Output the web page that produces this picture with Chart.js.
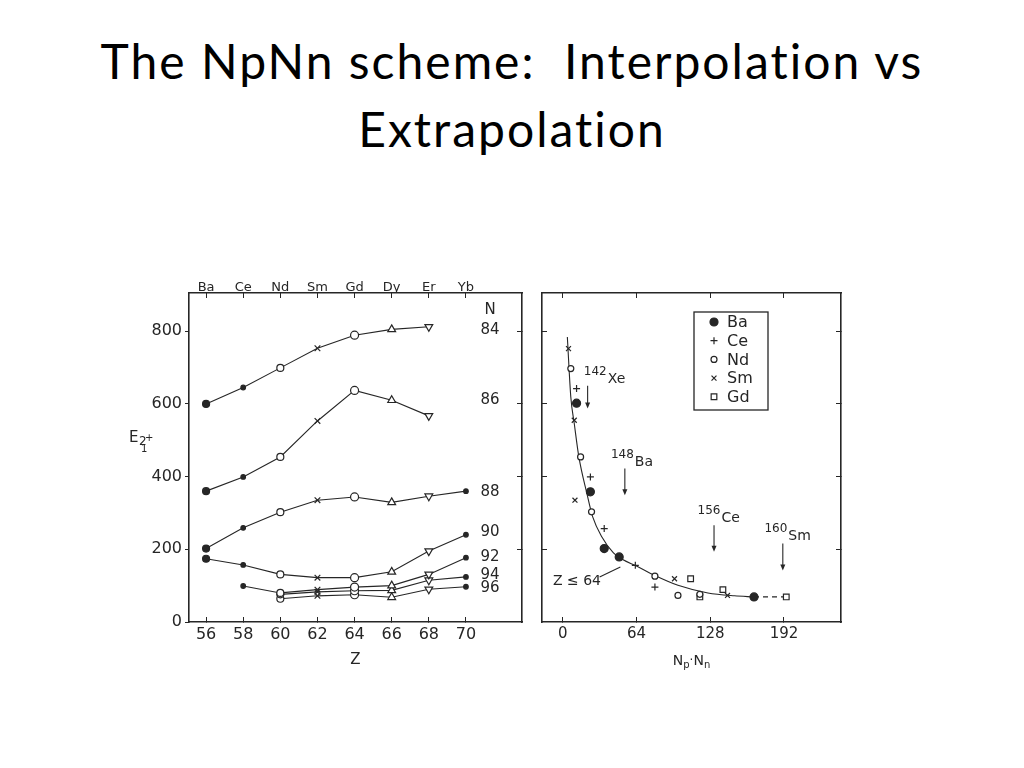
<!DOCTYPE html>
<html>
<head>
<meta charset="utf-8">
<script src="https://cdn.jsdelivr.net/npm/chart.js@4.4.1/dist/chart.umd.min.js"></script>
<style>
  html, body { margin: 0; padding: 0; background: #fff; }
  body { width: 1024px; height: 768px; position: relative; overflow: hidden; }
  .title { position: absolute; left: 0; top: 27px; width: 1024px; text-align: center;
           font-family: Lato, "Open Sans", sans-serif; font-size: 48px; line-height: 68px; color: #000;
           letter-spacing: 2px; font-variant-ligatures: none; }
  .panel { position: absolute; }
  #leftPanel { left: 120px; top: 262px; }
  #rightPanel { left: 530px; top: 262px; }
</style>
</head>
<body>
<div class="title">The NpNn scheme:&nbsp; Interpolation vs<br>Extrapolation</div>
<div class="panel" id="leftPanel"><canvas id="leftChart" width="420" height="420"></canvas></div>
<div class="panel" id="rightPanel"><canvas id="rightChart" width="330" height="420"></canvas></div>
<script>
// ---- left panel: E(2+) against Z, one line per neutron number N
var zValues = [56, 58, 60, 62, 64, 66, 68, 70];
var elements = ['Ba', 'Ce', 'Nd', 'Sm', 'Gd', 'Dy', 'Er', 'Yb'];
var nNumbers = ['84', '86', '88', '90', '92', '94', '96'];
var e84 = [600, 645, 699, 753, 789, 805, 812, null];
var e86 = [360, 399, 454, 553, 637, 610, 567, null];
var e88 = [202, 259, 302, 335, 344, 329, 346, 360];
var e90 = [174, 157, 131, 122, 122, 138, 195, 240];
var e92 = [null, 99, 80, 89, 96, 100, 131, 177];
var e94 = [null, null, 76, 83, 86, 87, 115, 124];
var e96 = [null, null, 64, 72, 75, 68, 90, 97];
var energyTicks = [0, 200, 400, 600, 800];

// ---- right panel: E(2+) against Np*Nn
var rightElements = ['Ba', 'Ce', 'Nd', 'Sm', 'Gd'];
var baX = [12, 24, 36, 49, 166];
var baY = [602, 358, 202, 179, 69];
var ceX = [12, 24, 36, 63, 80];
var ceY = [642, 399, 257, 156, 96];
var ndX = [7, 15.5, 25, 80, 100, 119];
var ndY = [697, 454, 303, 126, 73, 76];
var smX = [5, 10, 10.6, 97, 143];
var smY = [752, 555, 335, 119, 73];
var gdX = [111, 119, 139, 194];
var gdY = [119, 69, 89, 69];
var fitX = [4, 7, 10, 14, 21, 26, 34, 44, 52, 64, 80, 100, 126, 149, 166];
var fitY = [784, 619, 546, 454, 353, 289, 234, 190, 172, 154, 128, 101, 80, 72, 69];
var tailX = [166, 194];
var tailY = [69, 69];
var productTicks = [0, 64, 128, 192];

var ink = '#262626';
var num = { family: 'DejaVu Sans', size: 16 };

function pts(xs, ys) {
    return xs.map(function (x, i) { return { x: x, y: ys[i] }; });
}
function series(vals) {
    return zValues.map(function (z, i) { return vals[i] == null ? null : { x: z, y: vals[i] }; })
                  .filter(function (p) { return p; });
}
function fixTicks(list) {
    return function (s) { s.ticks = list.map(function (v) { return { value: v }; }); };
}

//marker look per element column in the left panel
var zLook = {
    56: { style: 'circle', r: 3.5, fill: true },
    58: { style: 'circle', r: 2.3, fill: true },
    60: { style: 'circle', r: 3.5, fill: false },
    62: { style: 'crossRot', r: 4, fill: false },
    64: { style: 'circle', r: 4, fill: false },
    66: { style: 'triangle', r: 4.5, fill: false },
    68: { style: 'triangle', r: 4.5, fill: false, rot: 180 },
    70: { style: 'circle', r: 2.3, fill: true }
};
function look(c) { return (c.raw && zLook[c.raw.x]) || zLook[56]; }

var leftSets = [e84, e86, e88, e90, e92, e94, e96].map(function (vals, i) {
    return {
        label: 'N = ' + nNumbers[i],
        data: series(vals),
        showLine: true,
        borderColor: ink,
        borderWidth: 1.1,
        pointStyle: function (c) { return look(c).style; },
        pointRadius: function (c) { return look(c).r; },
        pointRotation: function (c) { return look(c).rot || 0; },
        pointBackgroundColor: function (c) { return look(c).fill ? ink : '#fff'; },
        pointBorderColor: ink,
        pointBorderWidth: 1.2
    };
});

// N labels sit at the right end of each line
var nLabelAt = [802, 610, 358, 248, 179, 128, 92];

var leftExtras = {
    id: 'leftExtras',
    afterDraw: function (chart) {
        var ctx = chart.ctx, xs = chart.scales.x, ys = chart.scales.y;
        ctx.save();
        ctx.fillStyle = ink;
        ctx.font = '15px "DejaVu Sans"';
        ctx.textAlign = 'center';
        ctx.textBaseline = 'middle';
        var lx = xs.getPixelForValue(71.3);
        ctx.fillText('N', lx, ys.getPixelForValue(857));
        nNumbers.forEach(function (n, i) { ctx.fillText(n, lx, ys.getPixelForValue(nLabelAt[i])); });
        // E with 2_1^+ tag
        ctx.textAlign = 'left';
        ctx.textBaseline = 'alphabetic';
        ctx.font = '15px "DejaVu Sans"';
        ctx.fillText('E', 9, 180);
        ctx.font = '12px "DejaVu Sans"';
        ctx.fillText('2', 19, 183);
        ctx.font = '10px "DejaVu Sans"';
        ctx.fillText('+', 25, 179);
        ctx.fillText('1', 21, 190);
        ctx.restore();
    }
};

new Chart(document.getElementById('leftChart'), {
    type: 'scatter',
    data: { datasets: leftSets },
    options: {
        responsive: false,
        animation: false,
        events: [],
        layout: { padding: 0 },
        plugins: { legend: { display: false }, tooltip: { enabled: false } },
        scales: {
            x: {
                type: 'linear', position: 'bottom', min: 55.08, max: 73.02,
                afterBuildTicks: fixTicks(zValues),
                afterFit: function (s) { s.height = 60; },
                grid: { drawOnChartArea: false, tickLength: -5, color: ink },
                border: { display: true, color: ink, width: 1.6 },
                ticks: { padding: 8, font: num, color: ink, maxRotation: 0, autoSkip: false },
                title: { display: true, text: 'Z', font: { family: 'DejaVu Sans', size: 15 }, color: ink,
                         padding: { top: 0, bottom: 13 } }
            },
            xTop: {
                type: 'linear', position: 'top', min: 55.08, max: 73.02,
                afterBuildTicks: fixTicks(zValues),
                afterFit: function (s) { s.height = 31; },
                grid: { drawOnChartArea: false, tickLength: -5, color: ink },
                border: { display: true, color: ink, width: 1.6 },
                ticks: { padding: 3, font: { family: 'DejaVu Sans', size: 13 }, color: ink,
                         maxRotation: 0, autoSkip: false,
                         callback: function (v) { return elements[zValues.indexOf(v)]; } }
            },
            y: {
                type: 'linear', position: 'left', min: 0, max: 905,
                afterBuildTicks: fixTicks(energyTicks),
                afterFit: function (s) { s.width = 69; },
                grid: { drawOnChartArea: false, tickLength: 4, color: ink },
                border: { display: true, color: ink, width: 1.6 },
                ticks: { padding: 3, font: num, color: ink }
            },
            yRight: {
                type: 'linear', position: 'right', min: 0, max: 905,
                afterBuildTicks: fixTicks(energyTicks.slice(1)),
                afterFit: function (s) { s.width = 18; },
                grid: { drawOnChartArea: false, tickLength: -5, color: ink },
                border: { display: true, color: ink, width: 1.6 },
                ticks: { display: false }
            }
        }
    },
    plugins: [leftExtras]
});

// ---- right panel
var rightLook = [
    { style: 'circle', r: 4, fill: true },
    { style: 'cross', r: 3.5, fill: false },
    { style: 'circle', r: 3, fill: false },
    { style: 'crossRot', r: 3.5, fill: false },
    { style: 'rect', r: 4, fill: false }
];
var rightXs = [baX, ceX, ndX, smX, gdX];
var rightYs = [baY, ceY, ndY, smY, gdY];

var rightSets = rightElements.map(function (el, i) {
    var lk = rightLook[i];
    return {
        label: el,
        data: pts(rightXs[i], rightYs[i]),
        pointStyle: lk.style,
        pointRadius: lk.r,
        pointBackgroundColor: lk.fill ? ink : '#fff',
        pointBorderColor: ink,
        pointBorderWidth: 1.2
    };
});
rightSets.push({
    label: 'fit',
    data: pts(fitX, fitY),
    showLine: true,
    pointRadius: 0,
    borderColor: ink,
    borderWidth: 1.1,
    cubicInterpolationMode: 'monotone'
});
rightSets.push({
    label: 'fit tail',
    data: pts(tailX, tailY),
    showLine: true,
    pointRadius: 0,
    borderColor: ink,
    borderWidth: 1.1,
    borderDash: [5, 4]
});

// isotope arrows: where they point (Np*Nn) and the E span of the arrow
var isotopes = [
    { mass: '142', sym: 'Xe', at: 21.6, text: 18.3, top: 650, bottom: 587 },
    { mass: '148', sym: 'Ba', at: 53.9, text: 41.8, top: 422, bottom: 349 },
    { mass: '156', sym: 'Ce', at: 131.3, text: 117, top: 266, bottom: 193 },
    { mass: '160', sym: 'Sm', at: 191, text: 175, top: 216, bottom: 142 }
];

var rightExtras = {
    id: 'rightExtras',
    afterDraw: function (chart) {
        var ctx = chart.ctx, xs = chart.scales.x, ys = chart.scales.y, area = chart.chartArea;
        ctx.save();
        ctx.fillStyle = ink;
        ctx.strokeStyle = ink;
        ctx.lineWidth = 1.1;
        ctx.textBaseline = 'alphabetic';
        ctx.textAlign = 'left';

        isotopes.forEach(function (iso) {
            var ax = xs.getPixelForValue(iso.at);
            var y1 = ys.getPixelForValue(iso.top), y2 = ys.getPixelForValue(iso.bottom);
            ctx.beginPath();
            ctx.moveTo(ax, y1);
            ctx.lineTo(ax, y2 - 5);
            ctx.stroke();
            ctx.beginPath();
            ctx.moveTo(ax - 2.5, y2 - 6);
            ctx.lineTo(ax + 2.5, y2 - 6);
            ctx.lineTo(ax, y2);
            ctx.closePath();
            ctx.fill();
            var tx = xs.getPixelForValue(iso.text);
            ctx.font = '12px "DejaVu Sans"';
            ctx.fillText(iso.mass, tx, y1 - 11);
            var w = ctx.measureText(iso.mass).width;
            ctx.font = '14px "DejaVu Sans"';
            ctx.fillText(iso.sym, tx + w + 1, y1 - 3);
        });

        // Z <= 64 pointer
        ctx.font = '14px "DejaVu Sans"';
        ctx.fillText('Z ≤ 64', xs.getPixelForValue(-8.5), ys.getPixelForValue(101));
        ctx.beginPath();
        ctx.moveTo(xs.getPixelForValue(32), ys.getPixelForValue(124));
        ctx.lineTo(xs.getPixelForValue(50), ys.getPixelForValue(151));
        ctx.stroke();

        // legend box
        var bx = area.left + 152, by = area.top + 19;
        ctx.lineWidth = 1.3;
        ctx.strokeRect(bx, by, 74, 98);
        ctx.font = '16px "DejaVu Sans"';
        ctx.textBaseline = 'middle';
        rightElements.forEach(function (el, i) {
            var lk = rightLook[i], cy = by + 10 + i * 18.7;
            ctx.fillStyle = lk.fill ? ink : '#fff';
            ctx.strokeStyle = ink;
            ctx.lineWidth = 1.2;
            Chart.helpers.drawPoint(ctx, { pointStyle: lk.style, radius: lk.r, rotation: 0, borderWidth: 1.2 },
                                    bx + 20, cy);
            ctx.fillStyle = ink;
            ctx.fillText(el, bx + 33, cy + 1);
        });

        // x title Np.Nn
        var cx = (area.left + area.right) / 2, base = area.bottom + 43;
        var parts = [['N', 14, 0], ['p', 10, 3], ['·', 12, -1], ['N', 14, 0], ['n', 10, 3]];
        var total = 0;
        parts.forEach(function (p) { ctx.font = p[1] + 'px "DejaVu Sans"'; total += ctx.measureText(p[0]).width; });
        var px = cx - total / 2;
        ctx.textBaseline = 'alphabetic';
        parts.forEach(function (p) {
            ctx.font = p[1] + 'px "DejaVu Sans"';
            ctx.fillText(p[0], px, base + p[2]);
            px += ctx.measureText(p[0]).width;
        });
        ctx.restore();
    }
};

new Chart(document.getElementById('rightChart'), {
    type: 'scatter',
    data: { datasets: rightSets },
    options: {
        responsive: false,
        animation: false,
        events: [],
        layout: { padding: 0 },
        plugins: { legend: { display: false }, tooltip: { enabled: false } },
        scales: {
            x: {
                type: 'linear', position: 'bottom', min: -18, max: 241.5,
                afterBuildTicks: fixTicks(productTicks),
                afterFit: function (s) { s.height = 60; },
                grid: { drawOnChartArea: false, tickLength: -5, color: ink },
                border: { display: true, color: ink, width: 1.6 },
                ticks: { padding: 8, font: { family: 'DejaVu Sans', size: 15 }, color: ink, maxRotation: 0, autoSkip: false }
            },
            xTop: {
                type: 'linear', position: 'top', min: -18, max: 241.5,
                afterBuildTicks: fixTicks(productTicks),
                afterFit: function (s) { s.height = 31; },
                grid: { drawOnChartArea: false, tickLength: -5, color: ink },
                border: { display: true, color: ink, width: 1.6 },
                ticks: { display: false }
            },
            y: {
                type: 'linear', position: 'left', min: 0, max: 905,
                afterBuildTicks: fixTicks(energyTicks.slice(1)),
                afterFit: function (s) { s.width = 12; },
                grid: { drawOnChartArea: false, tickLength: -5, color: ink },
                border: { display: true, color: ink, width: 1.6 },
                ticks: { display: false }
            },
            yRight: {
                type: 'linear', position: 'right', min: 0, max: 905,
                afterBuildTicks: fixTicks(energyTicks.slice(1)),
                afterFit: function (s) { s.width = 19; },
                grid: { drawOnChartArea: false, tickLength: -5, color: ink },
                border: { display: true, color: ink, width: 1.6 },
                ticks: { display: false }
            }
        }
    },
    plugins: [rightExtras]
});
</script>
</body>
</html>
